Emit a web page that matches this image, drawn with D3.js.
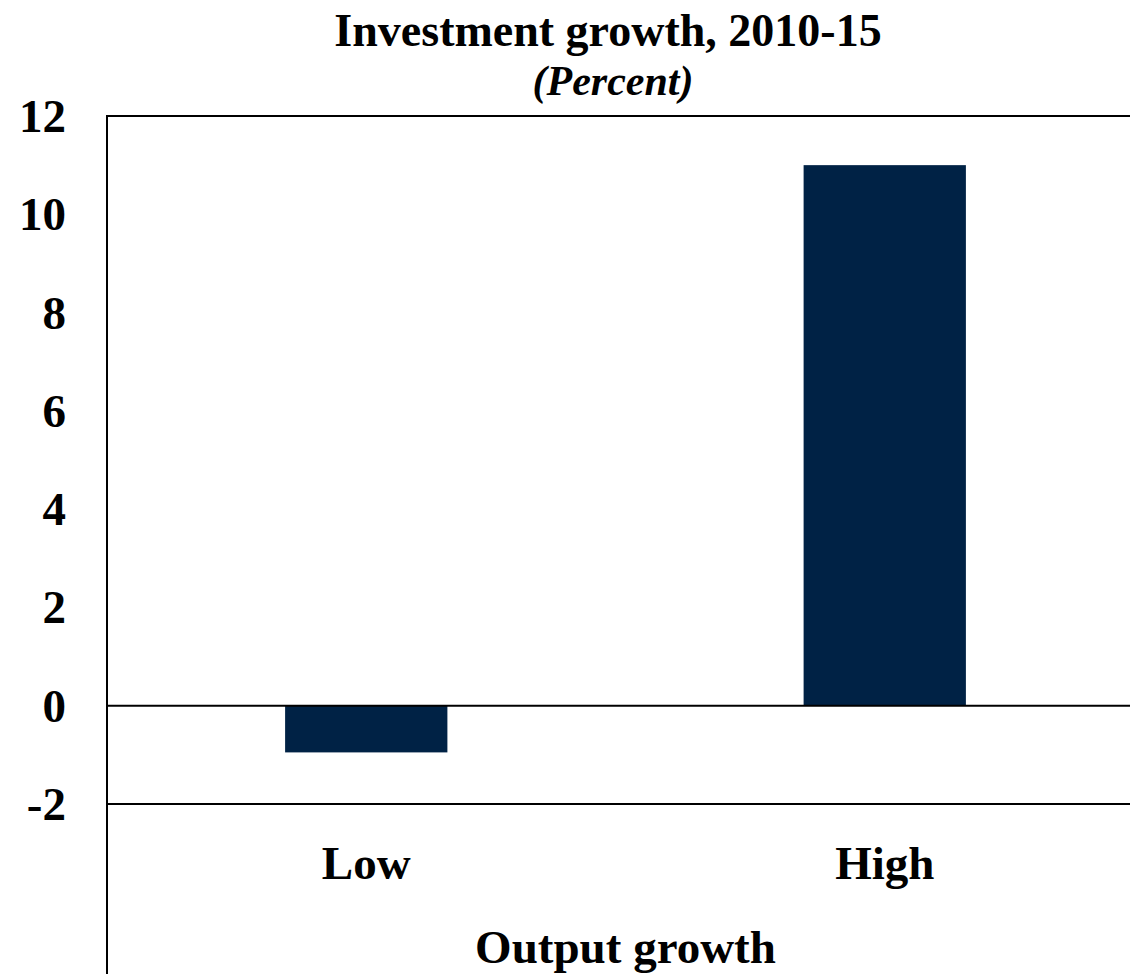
<!DOCTYPE html>
<html>
<head>
<meta charset="utf-8">
<script src="https://cdn.jsdelivr.net/npm/d3@7"></script>
<style>
  html, body { margin: 0; padding: 0; background: #fff; }
  svg { display: block; }
  text { font-family: "Liberation Serif", "Times New Roman", serif; font-weight: bold; fill: #000; }
</style>
</head>
<body>
<svg id="chart" width="1130" height="974"></svg>
<script>
// Investment growth by output-growth group, 2010-15 (percent)
const categories = ["Low", "High"];
const investmentGrowth = [-0.95, 11.0];
const yTicks = [-2, 0, 2, 4, 6, 8, 10, 12];

const titleText = "Investment growth, 2010-15";
const subtitleText = "(Percent)";
const xAxisTitle = "Output growth";

const width = 1130, height = 974;
const plot = { left: 107, right: 1144, top: 116, bottom: 804 };

const svg = d3.select("#chart");

const x = d3.scaleBand()
  .domain(categories)
  .range([plot.left, plot.right])
  .paddingInner(0.687)
  .paddingOuter(0.3435);

const y = d3.scaleLinear()
  .domain([-2, 12])
  .range([plot.bottom, plot.top]);

// Bars
svg.append("g")
  .selectAll("rect")
  .data(categories.map((c, i) => ({ c, v: investmentGrowth[i] })))
  .join("rect")
  .attr("x", d => x(d.c))
  .attr("width", x.bandwidth())
  .attr("y", d => y(Math.max(0, d.v)))
  .attr("height", d => Math.abs(y(d.v) - y(0)))
  .attr("fill", "#002245");

// Frame lines: top border, zero line, bottom line, left axis
const lines = svg.append("g").attr("stroke", "#000").attr("stroke-width", 2);
lines.append("line")
  .attr("x1", plot.left).attr("x2", width)
  .attr("y1", y(12)).attr("y2", y(12));
lines.append("line")
  .attr("x1", plot.left).attr("x2", width)
  .attr("y1", y(0)).attr("y2", y(0));
lines.append("line")
  .attr("x1", plot.left).attr("x2", width)
  .attr("y1", y(-2)).attr("y2", y(-2));
lines.append("line")
  .attr("x1", plot.left).attr("x2", plot.left)
  .attr("y1", y(12) - 1).attr("y2", height);

// Y tick labels via axis generator (plain hyphen for negatives)
const yAxis = d3.axisLeft(y)
  .tickValues(yTicks)
  .tickSize(0)
  .tickPadding(41)
  .tickFormat(d => String(d));
const gy = svg.append("g")
  .attr("transform", `translate(${plot.left},0)`)
  .call(yAxis);
gy.select(".domain").remove();
gy.selectAll("text")
  .attr("font-size", 47)
  .attr("font-family", "Liberation Serif, Times New Roman, serif")
  .attr("font-weight", "bold")
  .attr("fill", "#000")
  .attr("dy", "0.33em");

// Category labels
const xAxis = d3.axisBottom(x).tickSize(0).tickPadding(0);
const gx = svg.append("g")
  .attr("transform", `translate(0,879)`)
  .call(xAxis);
gx.select(".domain").remove();
gx.selectAll("text")
  .attr("y", 0)
  .attr("dy", 0)
  .attr("font-size", 47)
  .attr("font-family", "Liberation Serif, Times New Roman, serif")
  .attr("font-weight", "bold")
  .attr("fill", "#000");

// Axis title
svg.append("text")
  .attr("x", (plot.left + plot.right) / 2)
  .attr("y", 963)
  .attr("text-anchor", "middle")
  .attr("font-size", 47)
  .text(xAxisTitle);

// Title and subtitle
svg.append("text")
  .attr("x", 608)
  .attr("y", 46)
  .attr("text-anchor", "middle")
  .attr("font-size", 46)
  .text(titleText);
svg.append("text")
  .attr("x", 613)
  .attr("y", 95)
  .attr("text-anchor", "middle")
  .attr("font-size", 42)
  .attr("font-style", "italic")
  .text(subtitleText);
</script>
</body>
</html>
